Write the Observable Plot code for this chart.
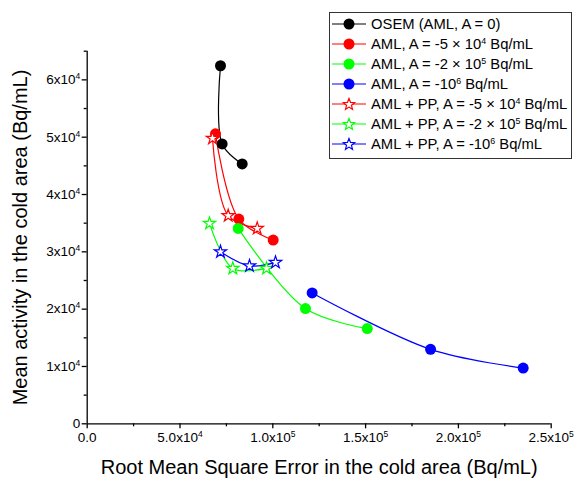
<!DOCTYPE html>
<html>
<head>
<meta charset="utf-8">
<script src="https://cdn.jsdelivr.net/npm/d3@7"></script>
<script src="https://cdn.jsdelivr.net/npm/@observablehq/plot@0.6"></script>
<style>
  body { margin: 0; background: #fff; font-family: "Liberation Sans", Arial, sans-serif; }
  #wrap { position: relative; width: 577px; height: 485px; }
  #legend { position: absolute; left: 329px; top: 12px; width: 243px; height: 147px; border: 1px solid #333; background: #fff; box-sizing: border-box; padding-top: 1px; }
  .row { height: 20px; display: flex; align-items: center; font-size: 14.8px; color: #000; white-space: nowrap; }
  .row svg { flex: none; margin-right: 5px; }
  sup { font-size: 0.6em; vertical-align: 0.6em; line-height: 0; }
</style>
</head>
<body>
<div id="wrap"><div id="chart"></div><div id="legend"></div></div>
<script>
// ---- data ----
const seriesNames = [
  "OSEM (AML, A = 0)",
  "AML, A = -5 × 10^4 Bq/mL",
  "AML, A = -2 × 10^5 Bq/mL",
  "AML, A = -10^6 Bq/mL",
  "AML + PP, A = -5 × 10^4 Bq/mL",
  "AML + PP, A = -2 × 10^5 Bq/mL",
  "AML + PP, A = -10^6 Bq/mL"
];
const seriesKinds = ["circle", "circle", "circle", "circle", "star", "star", "star"];

const osemX = [71820, 72700, 83500];
const osemY = [62460, 48830, 45330];
const amlRedX = [69100, 81700, 100200];
const amlRedY = [50580, 35720, 32050];
const amlGreenX = [81360, 117600, 150900];
const amlGreenY = [34090, 20100, 16610];
const amlBlueX = [121200, 185000, 234900];
const amlBlueY = [22830, 12990, 9720];
const ppRedX = [67500, 75970, 91600];
const ppRedY = [49800, 36300, 34090];
const ppGreenX = [65900, 78450, 96600];
const ppGreenY = [34970, 27100, 27100];
const ppBlueX = [71800, 87450, 101460];
const ppBlueY = [30000, 27550, 28150];

const xValues = [osemX, amlRedX, amlGreenX, amlBlueX, ppRedX, ppGreenX, ppBlueX];
const yValues = [osemY, amlRedY, amlGreenY, amlBlueY, ppRedY, ppGreenY, ppBlueY];

const xMajor = [0, 50000, 100000, 150000, 200000, 250000];
const xTickLabels = ["0.0", "5.0x10^4", "1.0x10^5", "1.5x10^5", "2.0x10^5", "2.5x10^5"];
const xMinor = [25000, 75000, 125000, 175000, 225000];
const yMajor = [0, 10000, 20000, 30000, 40000, 50000, 60000];
const yTickLabels = ["0", "1x10^4", "2x10^4", "3x10^4", "4x10^4", "5x10^4", "6x10^4"];
const yMinor = [5000, 15000, 25000, 35000, 45000, 55000, 65000];

const xLabel = "Root Mean Square Error in the cold area (Bq/mL)";
const yLabel = "Mean activity in the cold area (Bq/mL)";

// ---- styles ----
const colors = ["#000000", "#ff0000", "#00ff00", "#0000ff", "#ff0000", "#00ff00", "#0000ff"];

const data = seriesNames.flatMap((s, i) =>
  xValues[i].map((x, j) => ({series: s, kind: seriesKinds[i], x, y: yValues[i][j]})));

const font = "Liberation Sans, Arial, sans-serif";

const chart = Plot.plot({
  width: 577,
  height: 485,
  marginLeft: 86.7,
  marginRight: 26.3,
  marginTop: 50.7,
  marginBottom: 61.7,
  style: {fontFamily: font, background: "#fff", color: "#000"},
  x: {domain: [0, 250000]},
  y: {domain: [0, 65000]},
  color: {domain: seriesNames, range: colors},
  marks: [
    Plot.axisX({ticks: xMajor, tickSize: 5, tickPadding: 4, fontSize: 13.5, label: null, strokeWidth: 1.3,
      tickFormat: d => xTickLabels[xMajor.indexOf(d)]}),
    Plot.axisX({ticks: xMinor, tickSize: 3, text: null, label: null, strokeWidth: 1.3}),
    Plot.axisY({ticks: yMajor, tickSize: 5, tickPadding: 2, fontSize: 13.5, label: null, strokeWidth: 1.3,
      tickFormat: d => yTickLabels[yMajor.indexOf(d)]}),
    Plot.axisY({ticks: yMinor, tickSize: 3, text: null, label: null, strokeWidth: 1.3}),
    Plot.ruleX([0], {strokeWidth: 1.3}),
    Plot.ruleY([0], {strokeWidth: 1.3}),
    Plot.text([xLabel], {frameAnchor: "bottom", dy: 44, fontSize: 20, text: d => d, lineAnchor: "middle", textAnchor: "middle"}),
    Plot.text([yLabel], {frameAnchor: "left", dx: -67, rotate: -90, fontSize: 20, text: d => d, lineAnchor: "middle", textAnchor: "middle"}),
    Plot.line(data, {x: "x", y: "y", z: "series", stroke: "series", curve: "catmull-rom", strokeWidth: 1.2}),
    Plot.dot(data.filter(d => d.kind === "circle"), {x: "x", y: "y", fill: "series", r: 5.5}),
    Plot.dot(data.filter(d => d.kind === "star"), {x: "x", y: "y", stroke: "series", fill: "white", symbol: "star", r: 3.9, strokeWidth: 1.2})
  ]
});
document.getElementById("chart").appendChild(chart);

// superscripts in tick labels
chart.querySelectorAll("text").forEach(t => {
  const s = t.textContent;
  const m = s.match(/^(.*)\^(\d+)$/);
  if (!m) return;
  t.textContent = "";
  const base = document.createElementNS("http://www.w3.org/2000/svg", "tspan");
  base.textContent = m[1];
  const sup = document.createElementNS("http://www.w3.org/2000/svg", "tspan");
  sup.textContent = m[2];
  sup.setAttribute("font-size", "8.5");
  sup.setAttribute("dy", "-5");
  t.appendChild(base);
  t.appendChild(sup);
});

// ---- legend ----
const legend = document.getElementById("legend");
const fmt = s => s.replace(/\^(\d+)/g, "<sup>$1</sup>");
seriesNames.forEach((s, i) => {
  const row = document.createElement("div");
  row.className = "row";
  const c = colors[i];
  let marker;
  if (seriesKinds[i] === "circle") {
    marker = `<circle cx="19" cy="10" r="5.5" fill="${c}"/>`;
  } else {
    const pts = d3.range(10).map(k => {
      const a = -Math.PI / 2 + k * Math.PI / 5;
      const rr = k % 2 === 0 ? 6 : 2.6;
      return [19 + rr * Math.cos(a), 10.5 + rr * Math.sin(a)].map(v => v.toFixed(2)).join(",");
    }).join(" ");
    marker = `<polygon points="${pts}" fill="white" stroke="${c}" stroke-width="1.2"/>`;
  }
  row.innerHTML = `<svg width="36" height="20"><line x1="2" x2="36" y1="10" y2="10" stroke="${c}" stroke-width="1.2"/>${marker}</svg><span>${fmt(s)}</span>`;
  legend.appendChild(row);
});
</script>
</body>
</html>
